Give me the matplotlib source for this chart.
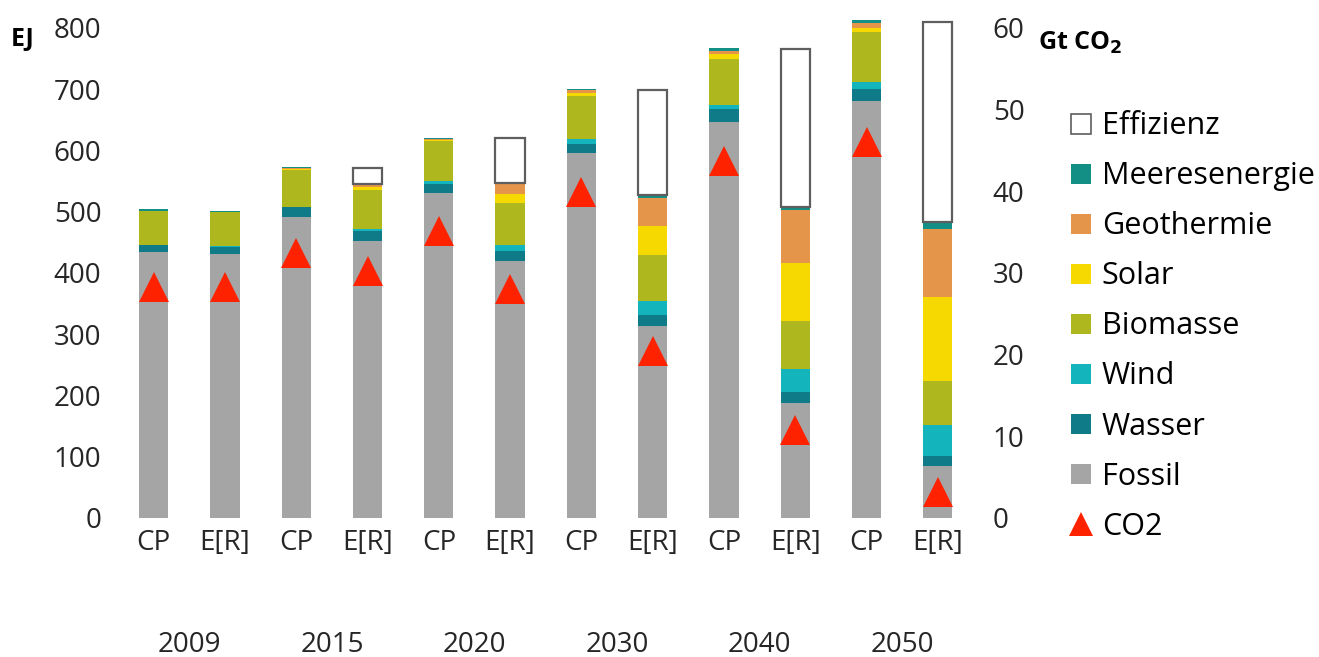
import matplotlib.pyplot as plt
from matplotlib.patches import Patch
from matplotlib.lines import Line2D
import numpy as np

plt.rcParams['font.family'] = ['Open Sans', 'DejaVu Sans']

years = ['2009', '2015', '2020', '2030', '2040', '2050']
scenarios = ['CP', 'E[R]'] * 6

# Primärenergie in EJ, je Balken (CP / E[R] abwechselnd)
fossil = [434, 431, 491, 453, 531, 420, 596, 313, 647, 188, 681, 85]
wasser = [11, 12, 16, 15, 15, 16, 15, 18, 20, 18, 19, 17]
wind = [1, 1, 1, 4, 4, 10, 7, 24, 8, 38, 12, 49]
biomasse = [55, 55, 60, 64, 66, 69, 71, 75, 75, 78, 81, 73]
solar = [0, 0, 2, 5, 1, 14, 5, 47, 8, 95, 7, 136]
geothermie = [1, 1, 1, 4, 2, 17, 4, 46, 5, 86, 8, 112]
meeresenergie = [2, 2, 2, 1, 2, 1, 2, 5, 4, 5, 5, 11]
effizienz = [0, 0, 0, 25, 0, 73, 0, 171, 0, 257, 0, 327]

# CO2-Emissionen in Gt
co2 = [28.3, 28.3, 32.5, 30.2, 35.2, 28.0, 39.9, 20.4, 43.7, 10.8, 46.1, 3.2]

layers = [
    ('Fossil', fossil, '#a5a5a5'),
    ('Wasser', wasser, '#0f7b88'),
    ('Wind', wind, '#14b4bd'),
    ('Biomasse', biomasse, '#afb71f'),
    ('Solar', solar, '#f6d900'),
    ('Geothermie', geothermie, '#e4954a'),
    ('Meeresenergie', meeresenergie, '#138f86'),
]

fig = plt.figure(figsize=(13.19, 6.57), dpi=100)
ax = fig.add_axes([0.0895, 0.2116, 0.6485, 0.7458])

x = np.arange(len(fossil))
w = 0.41
bottom = np.zeros(len(x))
for name, vals, col in layers:
    ax.bar(x, vals, w, bottom=bottom, color=col, linewidth=0, clip_on=False)
    bottom += np.array(vals)

eff = np.array(effizienz)
ax.bar(x[eff > 0], eff[eff > 0], w, bottom=bottom[eff > 0], facecolor='white',
       edgecolor='#5e5e5e', linewidth=1.6, clip_on=False)

ax.set_xlim(-0.5, 11.5)
ax.set_ylim(0, 800)
ax.set_yticks(range(0, 801, 100))
ax.set_xticks(x)
ax.set_xticklabels(scenarios)
ax.tick_params(axis='both', length=0, labelsize=20, colors='#262626')
ax.tick_params(axis='y', pad=12)
ax.tick_params(axis='x', pad=8)
for s in ax.spines.values():
    s.set_visible(False)

for i, yr in enumerate(years):
    ax.text(2 * i + 0.5, -0.26, yr, transform=ax.get_xaxis_transform(),
            ha='center', va='center', fontsize=20, color='#262626')

ax2 = ax.twinx()
ax2.plot(x, co2, linestyle='none', marker='^', markersize=22, color='#ff2200',
         markeredgewidth=0, clip_on=False)
ax2.set_ylim(0, 60)
ax2.set_yticks(range(0, 61, 10))
ax2.tick_params(axis='y', length=0, labelsize=20, colors='#262626', pad=14)
for s in ax2.spines.values():
    s.set_visible(False)

fig.text(0.008, 0.94, 'EJ', fontsize=18, fontweight='bold', ha='left', va='center')
fig.text(0.787, 0.935, r'Gt CO$_{\mathbf{2}}$', fontsize=18, fontweight='bold',
         ha='left', va='center')

handles = [Patch(facecolor='white', edgecolor='#5e5e5e', linewidth=1.2)]
labels = ['Effizienz']
for name, vals, col in layers[::-1]:
    handles.append(Patch(facecolor=col))
    labels.append(name)
handles.append(Line2D([], [], linestyle='none', marker='^', markersize=17,
                      color='#ff2200', markeredgewidth=0))
labels.append('CO2')

fig.legend(handles, labels, loc='upper left', bbox_to_anchor=(0.803, 0.849),
           frameon=False, fontsize=22, handlelength=0.64, handleheight=0.64,
           handletextpad=0.36, labelspacing=0.655, borderaxespad=0)

fig.savefig('out.png', dpi=100)
